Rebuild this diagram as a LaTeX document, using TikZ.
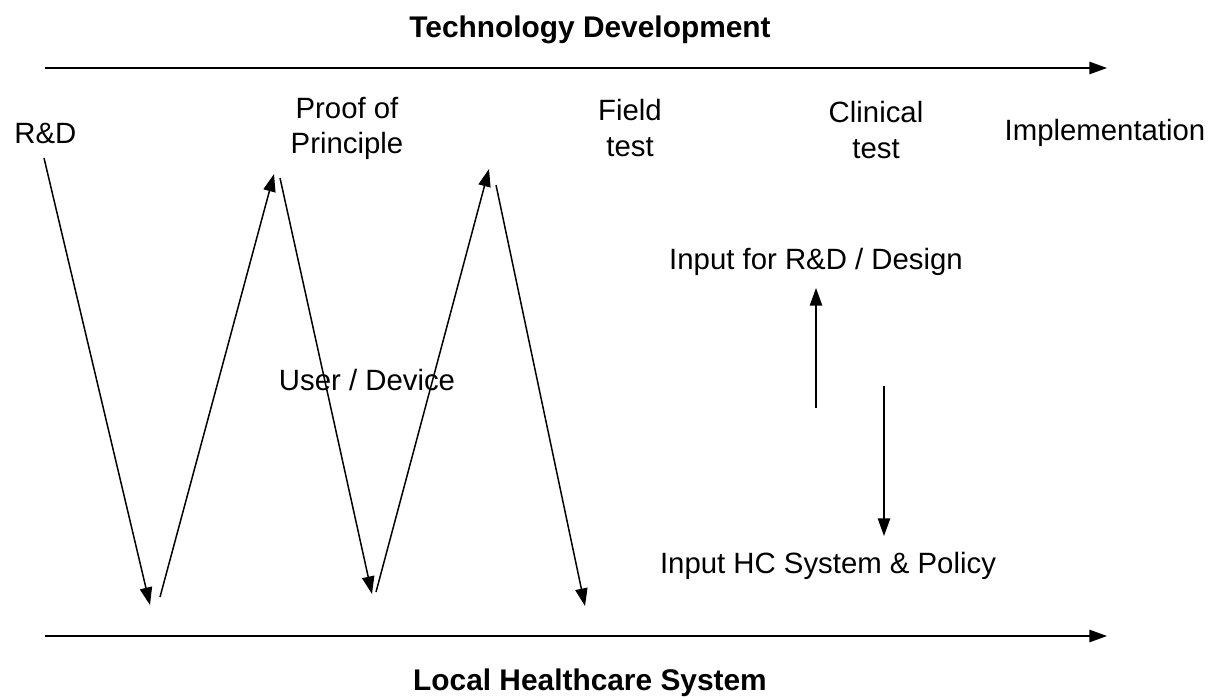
\documentclass[tikz,border=0pt]{standalone}
\usepackage{fontspec}
\setmainfont{Liberation Sans}
\usetikzlibrary{arrows.meta,positioning}

\begin{document}
\begin{tikzpicture}[
    x=0.02cm, y=-0.02cm,
    label/.style={align=center, font=\fontsize{16.7}{20}\selectfont, inner sep=0pt},
    title/.style={font=\fontsize{17}{20}\selectfont\bfseries, inner sep=0pt},
    arrow/.style={-{Triangle[length=10pt,width=7pt]}, line width=0.85pt}
]
    \useasboundingbox (0,0) rectangle (1212,699);

    % axes
    \node[title] (tech) at (590,30) {Technology Development};
    \node[title] (local) at (590,683) {Local Healthcare System};
    \coordinate (ts) at (45,68);
    \coordinate (te) at (1107,68);
    \coordinate (bs) at (45,636);
    \coordinate (be) at (1107,636);
    \draw[arrow] (ts) -- (te);
    \draw[arrow] (bs) -- (be);

    % stages
    \node[label, anchor=west] (rd) at (14,133) {R\&D};
    \node[label] (proof) at (347,128) {Proof of\\Principle};
    \node[label] (field) at (630,128) {Field\\test};
    \node[label] (clinical) at (876,130) {Clinical\\test};
    \node[label] (impl) at (1105,133) {Implementation};

    % zigzag
    \coordinate (z1) at (44,158);
    \coordinate (z2) at (150,605);
    \coordinate (z3) at (160,597);
    \coordinate (z4) at (274,174);
    \coordinate (z5) at (280,178);
    \coordinate (z6) at (372,594);
    \coordinate (z7) at (376,592);
    \coordinate (z8) at (489,169);
    \coordinate (z9) at (496,185);
    \coordinate (z10) at (585,606);
    \draw[arrow] (z1) -- (z2);
    \draw[arrow] (z3) -- (z4);
    \draw[arrow] (z5) -- (z6);
    \draw[arrow] (z7) -- (z8);
    \draw[arrow] (z9) -- (z10);
    \node[label] (user) at (367,380) {User / Device};

    % feedback
    \node[label] (design) at (816,262) {Input for R\&D / Design};
    \node[label] (policy) at (828,566) {Input HC System \& Policy};
    \coordinate (ups) at (816,408);
    \coordinate (upe) at (816,288);
    \coordinate (downs) at (884,386);
    \coordinate (downe) at (884,536);
    \draw[arrow] (ups) -- (upe);
    \draw[arrow] (downs) -- (downe);
\end{tikzpicture}
\end{document}
